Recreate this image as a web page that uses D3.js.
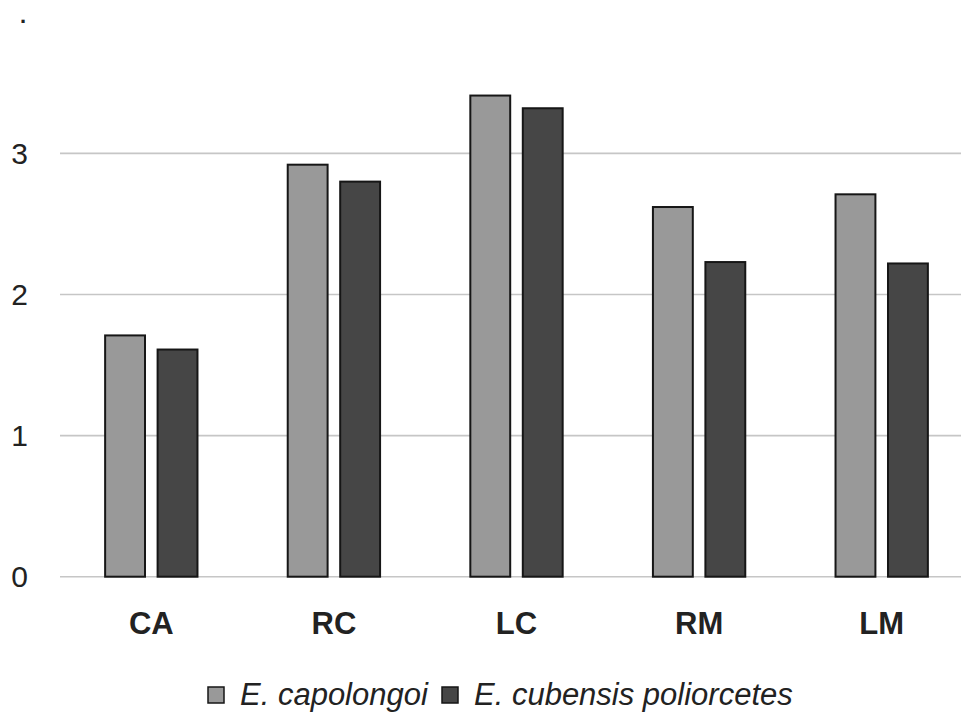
<!DOCTYPE html>
<html>
<head>
<meta charset="utf-8">
<script src="https://cdn.jsdelivr.net/npm/d3@7"></script>
<style>
  html, body { margin: 0; padding: 0; background: #fff; }
  svg { display: block; font-family: "Liberation Sans", Arial, sans-serif; }
</style>
</head>
<body>
<svg id="chart" width="961" height="713"></svg>
<script>
const categories = ["CA", "RC", "LC", "RM", "LM"];
const seriesNames = ["E. capolongoi", "E. cubensis poliorcetes"];
const capolongoi = [1.71, 2.92, 3.41, 2.62, 2.71];
const cubensis = [1.61, 2.80, 3.32, 2.23, 2.22];
const yTicks = [0, 1, 2, 3];
const colors = ["#999999", "#464646"];

const svg = d3.select("#chart");
const W = 961, H = 713;
const plotLeft = 60, plotRight = 973, plotBottom = 576.7, plotTop = 12.3;

const x0 = d3.scaleBand().domain(categories).range([plotLeft, plotRight]).padding(0);
const x1 = d3.scaleBand().domain(seriesNames).range([0, x0.bandwidth()])
  .paddingInner(0.24).paddingOuter(0.86);
const y = d3.scaleLinear().domain([0, 4]).range([plotBottom, plotTop]);

// stray dot at top-left
svg.append("text").attr("x", 20).attr("y", 23)
  .attr("font-size", 22).attr("font-weight", "bold").attr("fill", "#222").text(".");

// gridlines
svg.append("g").selectAll("line").data(yTicks).join("line")
  .attr("x1", plotLeft).attr("x2", W)
  .attr("y1", d => y(d)).attr("y2", d => y(d))
  .attr("stroke", "#c6c6c6").attr("stroke-width", 1.6);

// y axis labels
const yAxis = d3.axisLeft(y).tickValues(yTicks).tickSize(0).tickPadding(0).tickFormat(d3.format("d"));
const gy = svg.append("g").attr("transform", "translate(28,0)").call(yAxis);
gy.select(".domain").remove();
gy.selectAll("text").attr("font-size", 30).attr("fill", "#222")
  .attr("font-family", "'Liberation Sans', Arial, sans-serif");

// bars
const data = categories.map((c, i) => ({ cat: c, vals: [capolongoi[i], cubensis[i]] }));
const groups = svg.append("g").selectAll("g").data(data).join("g")
  .attr("transform", d => `translate(${x0(d.cat)},0)`);
groups.selectAll("rect").data(d => d.vals.map((v, j) => ({ s: seriesNames[j], v, j })))
  .join("rect")
  .attr("x", d => x1(d.s))
  .attr("width", x1.bandwidth())
  .attr("y", d => y(d.v))
  .attr("height", d => y(0) - y(d.v))
  .attr("fill", d => colors[d.j])
  .attr("stroke", "#161616").attr("stroke-width", 2);

// x axis labels
const xAxis = d3.axisBottom(x0).tickSize(0).tickPadding(0);
const gx = svg.append("g").attr("transform", `translate(0,${plotBottom})`).call(xAxis);
gx.select(".domain").remove();
gx.selectAll("text").attr("font-size", 31).attr("font-weight", "bold").attr("fill", "#222")
  .attr("font-family", "'Liberation Sans', Arial, sans-serif")
  .attr("dy", null).attr("y", 57);

// legend
const legendItems = [
  { name: seriesNames[0], color: colors[0], x: 208 },
  { name: seriesNames[1], color: colors[1], x: 442 }
];
const lg = svg.append("g").selectAll("g").data(legendItems).join("g")
  .attr("transform", d => `translate(${d.x},0)`);
lg.append("rect").attr("x", 0).attr("y", 687).attr("width", 16).attr("height", 16)
  .attr("fill", d => d.color).attr("stroke", "#161616").attr("stroke-width", 1.5);
lg.append("text").attr("x", 32).attr("y", 705)
  .attr("font-size", 31).attr("font-style", "italic").attr("fill", "#222")
  .text(d => d.name);
</script>
</body>
</html>
